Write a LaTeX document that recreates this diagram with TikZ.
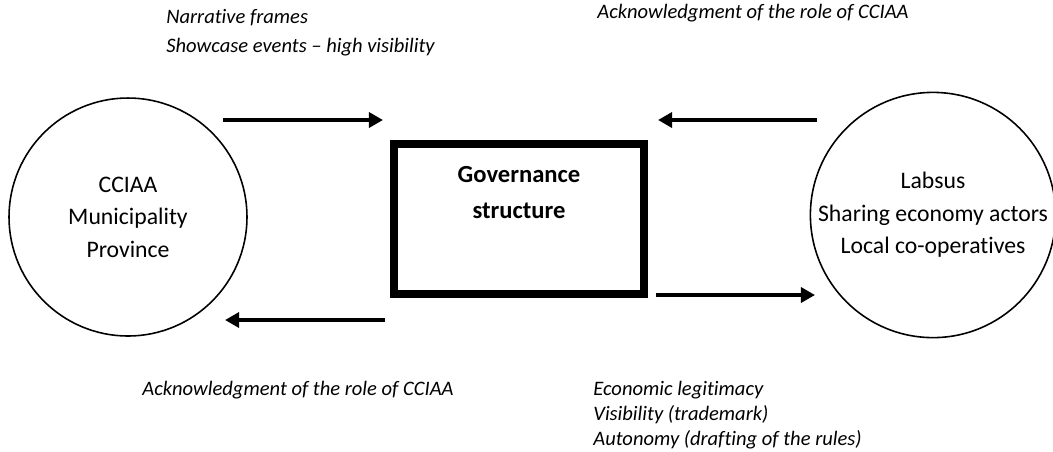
\documentclass[tikz,border=0pt]{standalone}
\usepackage{fontspec}
\setmainfont{Carlito}[Ligatures={TeX,NoCommon}]
\usetikzlibrary{arrows.meta}

\begin{document}
\begin{tikzpicture}
  [x=0.02cm, y=-0.02cm, >={Triangle[length=8pt, width=8.5pt]},
   actor/.style={draw, circle, line width=0.9pt, minimum size=4.76cm, inner sep=0pt,
     align=center, font=\fontsize{13.5}{18.5}\selectfont},
   govbox/.style={draw, line width=4.5pt, minimum width=5cm, minimum height=3cm, inner sep=0pt},
   flow/.style={->, line width=2.3pt},
   note/.style={anchor=base west, inner sep=0pt, align=left,
     font=\fontsize{11.7}{16.3}\selectfont\itshape}]
  \useasboundingbox (0, 0) rectangle (1053, 451);

  % the two groups of actors and the structure between them
  % (multi-line nodes sit on the baseline of their last line)
  \node [actor] (public) at (128, 217) {CCIAA\\Municipality\\Province};
  \node [actor] (private) at (933, 215) {Labsus\\Sharing economy actors\\Local co-operatives};
  \node [govbox] (gov) at (519, 219) {};
  \node [anchor=base, inner sep=0pt, align=center, font=\fontsize{14}{20}\selectfont\bfseries]
    (govtitle) at (519, 218) {Governance\\structure};

  % free ends of the exchange arrows
  \coordinate (pubout) at (223, 120);
  \coordinate (govinl) at (383, 120);
  \coordinate (privout) at (817, 120);
  \coordinate (govinr) at (658, 120);
  \coordinate (govoutr) at (656, 295);
  \coordinate (privin) at (815, 295);
  \coordinate (govoutl) at (385, 320);
  \coordinate (pubin) at (225, 320);

  \draw [flow] (pubout) -- (govinl);
  \draw [flow] (privout) -- (govinr);
  \draw [flow] (govoutr) -- (privin);
  \draw [flow] (govoutl) -- (pubin);

  % what each side gives and gets
  \node [note] (pubgives) at (166, 52) {Narrative frames\\Showcase events \textendash{} high visibility};
  \node [note] (privgives) at (597, 18) {Acknowledgment of the role of CCIAA};
  \node [note] (pubgets) at (142, 395) {Acknowledgment of the role of CCIAA};
  \node [note, font=\fontsize{11.7}{14.2}\selectfont\itshape]
    (privgets) at (593, 445) {Economic legitimacy\\Visibility (trademark)\\Autonomy (drafting of the rules)};
\end{tikzpicture}
\end{document}
